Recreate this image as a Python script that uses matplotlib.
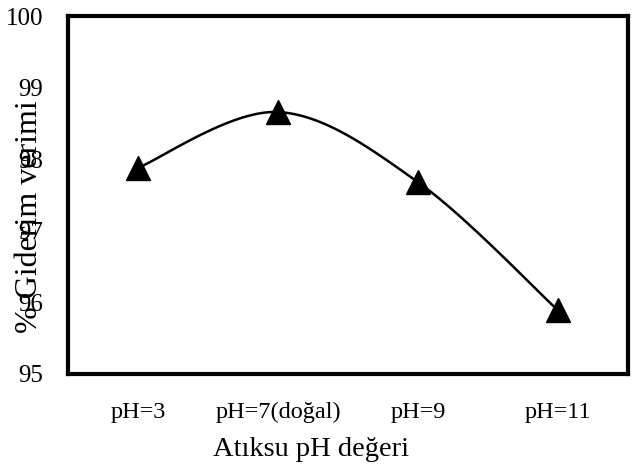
import numpy as np
import matplotlib.pyplot as plt

plt.rcParams['font.family'] = ['Liberation Serif', 'DejaVu Serif']

categories = ['pH=3', 'pH=7(doğal)', 'pH=9', 'pH=11']
verim = [97.88, 98.66, 97.68, 95.89]


def smooth(xs, ys, n=40):
    # Catmull-Rom curve through the points, like Excel's smoothed line
    p = np.column_stack([xs, ys]).astype(float)
    p = np.vstack([p[0], p, p[-1]])
    out = []
    for i in range(1, len(p) - 2):
        p0, p1, p2, p3 = p[i - 1], p[i], p[i + 1], p[i + 2]
        t = np.linspace(0, 1, n)[:, None]
        seg = 0.5 * ((2 * p1) + (-p0 + p2) * t + (2 * p0 - 5 * p1 + 4 * p2 - p3) * t**2
                     + (-p0 + 3 * p1 - 3 * p2 + p3) * t**3)
        out.append(seg)
    out = np.vstack(out)
    return out[:, 0], out[:, 1]


x = np.arange(len(categories))
fig = plt.figure(figsize=(6.32, 4.69), dpi=100)
ax = fig.add_axes([0.1076, 0.2026, 0.886, 0.763])

sx, sy = smooth(x, verim)
ax.plot(sx, sy, color='black', linewidth=1.8)
ax.plot(x, verim, linestyle='none', marker='^', color='black', markersize=17)

ax.set_xlim(-0.5, 3.5)
ax.set_ylim(95, 100)
ax.set_yticks([95, 96, 97, 98, 99, 100])
ax.set_xticks(x)
ax.set_xticklabels(categories)
ax.tick_params(length=0, labelsize=17.5, pad=20)
ax.tick_params(axis='y', labelsize=18, pad=18)
for s in ax.spines.values():
    s.set_linewidth(3)

ax.set_xlabel('Atıksu pH değeri', fontsize=20.5)
ax.xaxis.set_label_coords(0.434, -0.175)
ax.set_ylabel('% Giderim verimi', fontsize=23)
ax.yaxis.set_label_coords(-0.043, 0.44)

fig.savefig('out.png', dpi=100)
